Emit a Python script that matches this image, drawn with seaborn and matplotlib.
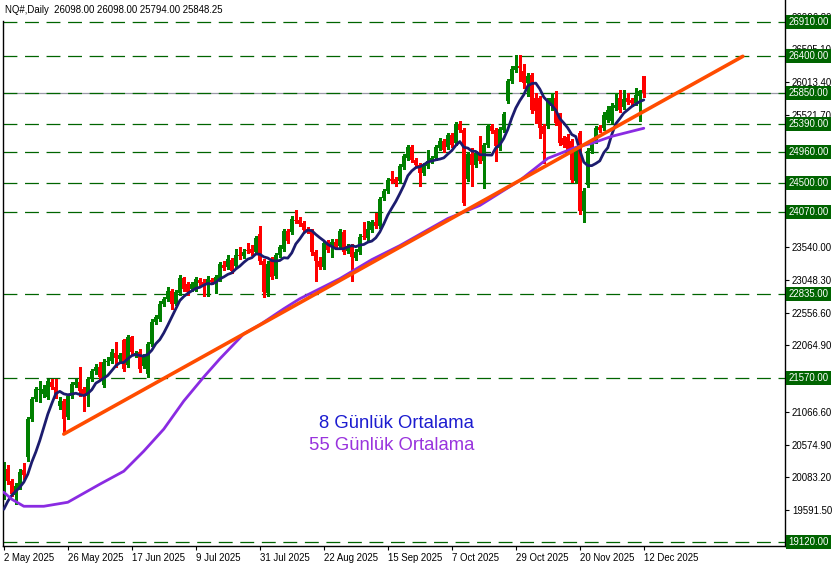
#!/usr/bin/env python3
"""NQ# daily candles with 8/55 day averages, trend line and price levels."""

import numpy as np
import pandas as pd
import seaborn as sns
import matplotlib
matplotlib.use("Agg")
import matplotlib.pyplot as plt
import matplotlib.transforms as mtransforms

# --- data --------------------------------------------------------------
opens = [
    19861, 20207, 20027, 19816, 19937, 20192, 20388, 20959, 21260, 21395,
    21335, 21290, 21516, 21440, 21155, 21230, 20989, 21305, 21471, 21516,
    21410, 21305, 21561, 21681, 21741, 21471, 21817, 21832, 21952, 21862,
    22147, 21771, 22192, 21922, 21967, 21756, 21636, 22087, 22418, 22463,
    22689, 22764, 22884, 22689, 22854, 23080, 22990, 22914, 22914, 23050,
    23020, 22990, 23050, 23020, 23065, 23275, 23245, 23351, 23260, 23426,
    23411, 23501, 23516, 23471, 23742, 23336, 22854, 23351, 23110, 23426,
    23516, 23787, 23772, 23952, 23952, 23907, 23817, 23787, 23471, 23336,
    23245, 23621, 23561, 23621, 23561, 23772, 23486, 23561, 23381, 23471,
    23712, 23681, 23802, 23922, 23862, 24268, 24373, 24554, 24554, 24524,
    24734, 24870, 25035, 24840, 24764, 24644, 24749, 24825, 24870, 25020,
    25125, 25035, 25216, 25095, 25381, 25291, 24554, 24930, 24764, 24960,
    24825, 25065, 25351, 25291, 25020, 25291, 25727, 26028, 26193, 26253,
    26178, 25998, 26118, 25772, 25772, 25351, 25351, 25652, 25772, 25516,
    25170, 25185, 25125, 24524, 25246, 24073, 24464, 24975, 25125, 25336,
    25321, 25441, 25426, 25622, 25772, 25637, 25772, 25742, 25697, 25802,
    26098,
]
highs = [
    20313, 20267, 20057, 19997, 20207, 20297, 20989, 21290, 21440, 21531,
    21471, 21561, 21561, 21561, 21290, 21260, 21335, 21516, 21561, 21741,
    21440, 21591, 21711, 21786, 21817, 21862, 21892, 22012, 22117, 21952,
    22162, 22223, 22208, 21982, 22012, 21937, 22117, 22463, 22523, 22734,
    22794, 22945, 22914, 22899, 23125, 23095, 23020, 23020, 23095, 23080,
    23065, 23110, 23080, 23125, 23321, 23336, 23426, 23381, 23516, 23546,
    23516, 23606, 23576, 23712, 23862, 23366, 23336, 23396, 23456, 23576,
    23817, 23817, 24012, 24088, 23997, 23937, 23847, 23817, 23501, 23396,
    23636, 23651, 23666, 23666, 23817, 23802, 23591, 23591, 23516, 23742,
    23922, 23937, 23952, 24057, 24283, 24403, 24569, 24674, 24584, 24779,
    24930, 25065, 25065, 24870, 24794, 24794, 24990, 24900, 25065, 25170,
    25155, 25246, 25246, 25411, 25426, 25321, 24960, 25020, 24975, 25200,
    25095, 25381, 25381, 25321, 25336, 25561, 26058, 26253, 26419, 26419,
    26283, 26148, 26148, 25847, 25802, 25381, 25772, 25847, 25877, 25546,
    25200, 25231, 25155, 25020, 25276, 24418, 25020, 25125, 25351, 25366,
    25561, 25652, 25697, 25847, 25892, 25892, 25847, 25772, 25922, 25892,
    26098,
]
lows = [
    19756, 19982, 19801, 19681, 19906, 20057, 20328, 20929, 21230, 21215,
    21290, 21260, 21410, 21275, 21110, 20734, 20959, 21275, 21440, 21305,
    21080, 21155, 21531, 21636, 21561, 21440, 21771, 21801, 21741, 21832,
    21681, 21741, 21937, 21892, 21666, 21726, 21591, 22057, 22388, 22433,
    22659, 22734, 22614, 22674, 22824, 22884, 22824, 22884, 22884, 22975,
    22809, 22809, 22990, 22854, 23035, 23200, 23215, 23155, 23230, 23366,
    23381, 23456, 23426, 23441, 23290, 22794, 22809, 23065, 23080, 23396,
    23486, 23606, 23742, 23907, 23862, 23772, 23757, 23426, 23035, 23215,
    23215, 23471, 23396, 23516, 23531, 23441, 23456, 23035, 23351, 23441,
    23666, 23651, 23772, 23832, 23832, 24238, 24343, 24494, 24448, 24494,
    24704, 24840, 24809, 24734, 24448, 24614, 24719, 24794, 24840, 24990,
    24960, 25005, 25035, 25065, 25261, 24163, 24524, 24448, 24734, 24794,
    24418, 25035, 25246, 24825, 24990, 25261, 25697, 25998, 26163, 26028,
    25922, 25802, 25546, 25396, 25170, 24794, 25321, 25592, 25366, 25065,
    25035, 24945, 24509, 24494, 24042, 23922, 24433, 24945, 25095, 25261,
    25291, 25411, 25396, 25592, 25561, 25607, 25682, 25652, 25667, 25426,
    25794,
]
closes = [
    20207, 20027, 19831, 19952, 20162, 20117, 20959, 21260, 21410, 21410,
    21410, 21531, 21440, 21305, 21230, 20959, 21305, 21486, 21516, 21380,
    21305, 21561, 21681, 21741, 21591, 21817, 21832, 21967, 21877, 21922,
    21711, 22192, 21967, 21952, 21711, 21892, 22087, 22418, 22493, 22689,
    22764, 22884, 22689, 22869, 23080, 22914, 22869, 22990, 23065, 23005,
    22960, 23065, 23020, 23095, 23290, 23230, 23366, 23185, 23426, 23411,
    23471, 23486, 23456, 23681, 23336, 22869, 23290, 23095, 23426, 23546,
    23787, 23636, 23967, 23937, 23892, 23802, 23787, 23471, 23336, 23245,
    23606, 23501, 23621, 23546, 23787, 23471, 23561, 23396, 23471, 23696,
    23696, 23817, 23922, 23862, 24253, 24373, 24539, 24524, 24494, 24749,
    24900, 25035, 24840, 24764, 24644, 24764, 24825, 24870, 25035, 25125,
    24990, 25216, 25065, 25381, 25291, 24193, 24930, 24764, 24945, 24825,
    25065, 25351, 25276, 25050, 25306, 25531, 26028, 26208, 26253, 26223,
    25998, 26103, 25592, 25577, 25321, 25231, 25742, 25772, 25396, 25095,
    25065, 24975, 24539, 24990, 24073, 24373, 24975, 25095, 25321, 25291,
    25516, 25592, 25652, 25667, 25592, 25757, 25712, 25697, 25817, 25877,
    25848.25,
]

# first 7 values of the 8-day average (history before the window)
ma8_head = [19606, 19726, 19816, 19876, 19937, 20012, 20132]

# 55-day average, read at these bars
ma55_bar = [0, 2, 5, 10, 16, 24, 30, 35, 40, 45, 50, 54, 60, 64, 70, 74,
            84, 92, 99, 111, 119, 129, 136, 143, 147, 152, 157, 160]
ma55_val = [19861, 19756, 19651, 19651, 19711, 19982, 20177, 20478, 20809,
            21230, 21591, 21862, 22238, 22373, 22614, 22764, 23065, 23351,
            23561, 23967, 24163, 24539, 24870, 25035, 25095, 25200, 25276,
            25321]

trend_bar = [15, 184.75]
trend_val = [20734, 26400]

levels = [26910, 26400, 25850, 25390, 24960, 24500, 24070, 22835, 21570, 19120]
bid = 25848.25
axis_ticks = [26996.80, 26505.10, 26013.40, 25521.70, 23540.00, 23048.30,
              22556.60, 22064.90, 21066.60, 20574.90, 20083.20, 19591.50]

date_bars = [0, 16, 32, 48, 64, 80, 96, 112, 128, 144, 160]
date_labels = ["2 May 2025", "26 May 2025", "17 Jun 2025", "9 Jul 2025",
               "31 Jul 2025", "22 Aug 2025", "15 Sep 2025", "7 Oct 2025",
               "29 Oct 2025", "20 Nov 2025", "12 Dec 2025"]

header = "NQ#,Daily  26098.00 26098.00 25794.00 25848.25"

# --- figure --------------------------------------------------------------
sns.set_theme(style="white")
plt.rcParams['font.family'] = ['Liberation Sans', 'DejaVu Sans']
plt.rcParams['lines.scale_dashes'] = False

W, H = 836, 568
fig = plt.figure(figsize=(W / 100, H / 100), dpi=100)
ax = fig.add_axes([3 / W, (H - 546) / H, 782 / W, 546 / H])
ax.set_facecolor('white')

df = pd.DataFrame({'bar': np.arange(len(closes)), 'open': opens,
                   'high': highs, 'low': lows, 'close': closes})
up = df['close'] >= df['open']
col = np.where(up, '#008000', '#ff0000')

# candles (crisp, like the terminal draws them)
ax.vlines(df['bar'], df['low'], df['high'], colors=col, lw=1.0, zorder=2,
          antialiased=False)
ax.bar(df['bar'], df['close'] - df['open'], bottom=df['open'], width=0.75,
       color=col, linewidth=0, zorder=2, antialiased=False)

# moving averages
ma8 = df['close'].rolling(8).mean()
ma8.iloc[:7] = ma8_head
df['ma8'] = ma8
sns.lineplot(data=df, x='bar', y='ma8', color='#1c1c6e', lw=2.0,
             estimator=None, sort=False, ax=ax, zorder=4)
sns.lineplot(x=ma55_bar, y=ma55_val, color='#8a2be2', lw=2.0,
             estimator=None, sort=False, ax=ax, zorder=4)
sns.lineplot(x=trend_bar, y=trend_val, color='#ff4c00', lw=2.6,
             estimator=None, sort=False, ax=ax, zorder=5)

# price levels
ax.axhline(bid, color='#9a9aa8', lw=0.9, zorder=1)
for v in levels:
    ax.axhline(v, color='#006400', lw=0.9, ls=(0, (10, 5.5)), zorder=1)

trans = mtransforms.blended_transform_factory(ax.transAxes, ax.transData)
for v in levels:
    ax.text(1.0045, v, f"{v:.2f}", transform=trans, color='white',
            fontsize=6.9, va='center', ha='left', clip_on=False, zorder=6,
            bbox=dict(boxstyle='square,pad=0.22', fc='#006400', ec='none'))

# axes
ax.set_xlim(-0.2, 195.3)
ax.set_ylim(19055, 27245)
ax.set_xlabel('')
ax.set_ylabel('')
ax.set_xticks(date_bars)
ax.set_xticklabels(date_labels)
for lab in ax.get_xticklabels():
    lab.set_ha('left')
ax.yaxis.tick_right()
ax.set_yticks(axis_ticks)
ax.set_yticklabels([f"{t:.2f}" for t in axis_ticks])
ax.tick_params(axis='x', direction='out', length=3, width=0.8, pad=2,
               labelsize=6.9, colors='black', bottom=True)
ax.tick_params(axis='y', direction='out', length=3, width=0.8, pad=2,
               labelsize=6.9, colors='black', right=True, left=False)
for s in ['left', 'right', 'bottom']:
    ax.spines[s].set_color('black')
    ax.spines[s].set_linewidth(1.0)
ax.spines['left'].set_bounds(19055, 26930)
ax.spines['top'].set_visible(False)
ax.grid(False)

# header and legend texts
fig.text(5 / W, 1 - 10 / H, header, fontsize=6.9, va='center', ha='left',
         color='black',
         bbox=dict(boxstyle='square,pad=0.1', fc='white', ec='none'))
fig.text(473.5 / W, 1 - 423 / H, "8 Günlük Ortalama", fontsize=13.3,
         color='#1c1cd0', ha='right', va='center')
fig.text(474.5 / W, 1 - 445 / H, "55 Günlük Ortalama", fontsize=13.3,
         color='#9933dd', ha='right', va='center')

fig.savefig('out.png', dpi=100)
